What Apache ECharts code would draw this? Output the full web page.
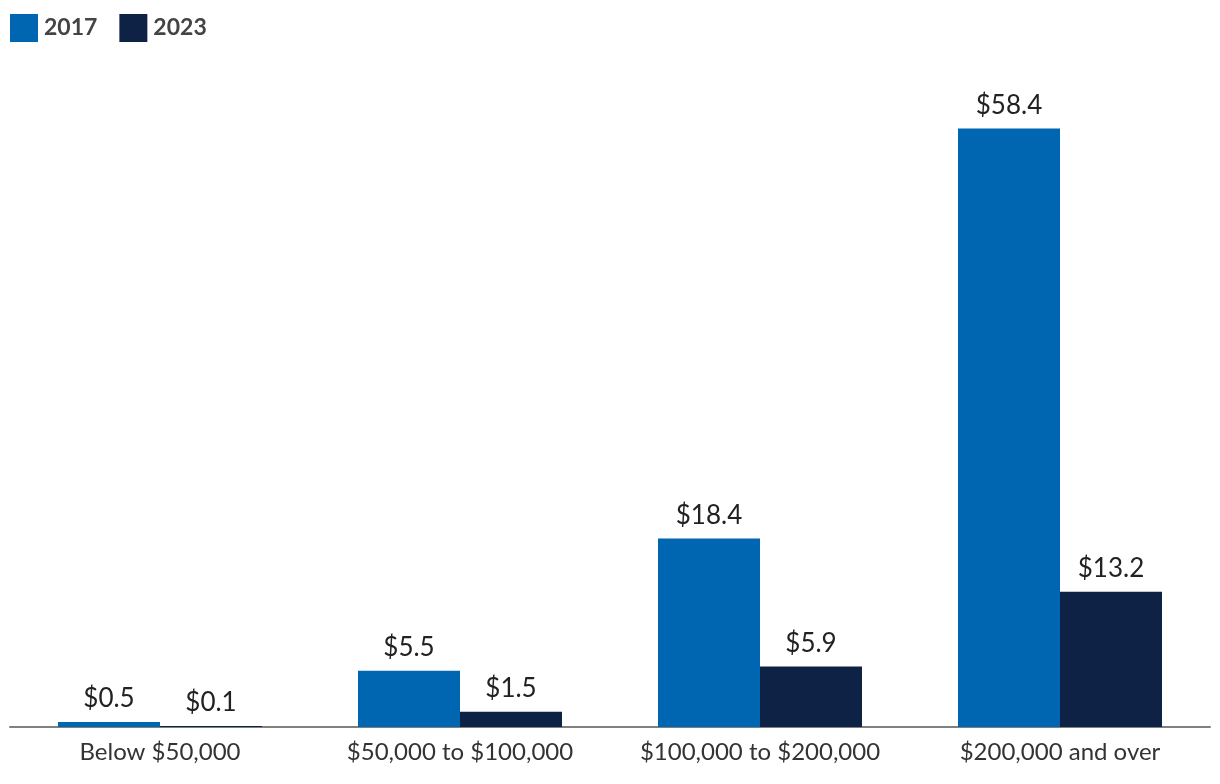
<!DOCTYPE html>
<html><head><meta charset="utf-8">
<script src="https://cdn.jsdelivr.net/npm/echarts@6/dist/echarts.min.js"></script>
<style>html,body{margin:0;padding:0;background:#fff}#c{width:1220px;height:784px}</style>
</head><body><div id="c"></div>
<script>
const categories = ["Below $50,000", "$50,000 to $100,000", "$100,000 to $200,000", "$200,000 and over"];
const values2017 = [0.5, 5.5, 18.4, 58.4];
const values2023 = [0.1, 1.5, 5.9, 13.2];
const seriesNames = ["2017", "2023"];

const chart = echarts.init(document.getElementById('c'));
const lbl = {show: true, position: 'top', distance: 10, fontFamily: 'Lato', fontSize: 26, color: '#222', formatter: p => '$' + p.value.toFixed(1)};
chart.setOption({
  animation: false,
  textStyle: {fontFamily: 'Lato'},
  legend: {left: 10, top: 14, padding: 0, itemWidth: 28, itemHeight: 28, itemGap: 22,
    textStyle: {fontFamily: 'Lato', fontSize: 23, fontWeight: 'bold', color: '#444', padding: [0,0,0,1]},
    data: seriesNames.map(n => ({name: n, icon: 'rect'}))},
  grid: {left: 10, right: 10, top: 112, bottom: 57},
  xAxis: {type: 'category', data: categories,
    axisLine: {lineStyle: {color: '#808080', width: 2}}, axisTick: {show: false},
    axisLabel: {interval: 0, hideOverlap: false, fontFamily: 'Lato', fontSize: 24, color: '#333', margin: 13}},
  yAxis: {type: 'value', min: 0, max: 60, show: false, splitLine: {show: false}},
  series: [
    {name: seriesNames[0], type: 'bar', data: values2017, barGap: '0%', barCategoryGap: '32%', itemStyle: {color: '#0066b2'}, label: lbl},
    {name: seriesNames[1], type: 'bar', data: values2023, itemStyle: {color: '#0e2245'}, label: lbl}
  ]
});
</script></body></html>
